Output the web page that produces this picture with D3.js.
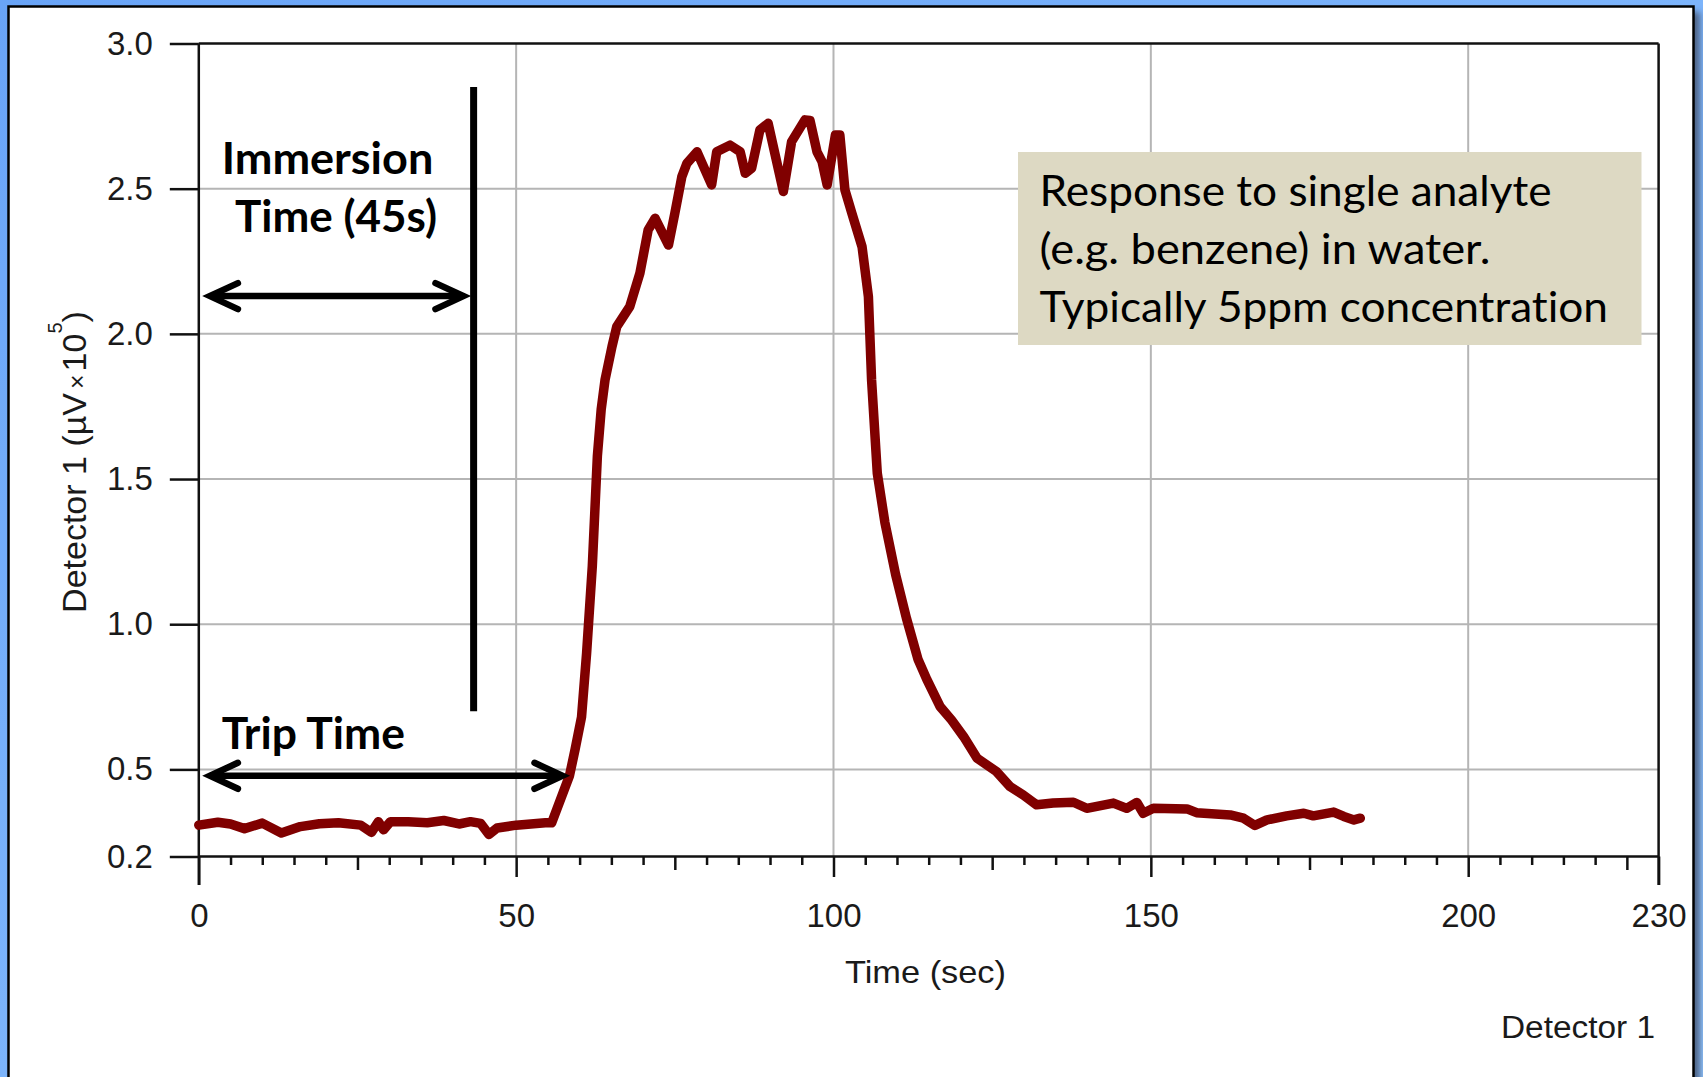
<!DOCTYPE html>
<html>
<head>
<meta charset="utf-8">
<script src="https://cdn.jsdelivr.net/npm/d3@7/dist/d3.min.js"></script>
<style>
  html, body { margin: 0; padding: 0; background: #7fb6fb; }
  svg { display: block; }
  text { font-variant-ligatures: none; }
</style>
</head>
<body>
<svg id="chart" width="1703" height="1077"></svg>
<script>
// Detector 1 response trace: time (s) and signal (µV × 10^5)
const timeSec = [
  0, 3, 5, 7.2, 10, 13, 16, 19, 22, 25.5, 27.2, 28.3, 29.1, 30.2, 33, 36, 38.6, 41, 42.8, 44.4,
  45.7, 47, 50, 54.6, 55.6, 58.4, 59.3, 60.3, 61.1, 62, 62.8, 63.4, 64, 65.1, 65.85, 67.9, 69.5,
  70.8, 71.9, 74, 75, 76.1, 76.9, 78.5, 80.8, 81.6, 83.7, 85.3, 86.1, 87.1, 88.4, 89.7, 92.1,
  93.4, 95.5, 96.3, 97.4, 98.2, 99, 100.3, 101, 101.8, 102.9, 104.5, 105.5, 106, 106.9, 108.1,
  109.8, 111.5, 113.3, 114.7, 116.8, 118.6, 120.5, 122.6, 125.7, 127.8, 129.9, 132, 134.6,
  137.8, 139.9, 144.1, 146.2, 147.8, 148.8, 150.4, 155.7, 157.2, 162.5, 164.6, 166.4, 168.3,
  171.4, 174.1, 175.6, 178.8, 180.4, 182, 183
];
const detector = [
  0.308, 0.318, 0.312, 0.296, 0.315, 0.281, 0.303, 0.313, 0.316, 0.308, 0.283, 0.320, 0.292,
  0.320, 0.320, 0.316, 0.324, 0.312, 0.320, 0.314, 0.276, 0.298, 0.308, 0.316, 0.316, 0.478,
  0.57, 0.68, 0.90, 1.20, 1.58, 1.74, 1.841, 1.956, 2.025, 2.094, 2.209, 2.358, 2.398, 2.306,
  2.415, 2.541, 2.587, 2.627, 2.513, 2.627, 2.65, 2.627, 2.553, 2.57, 2.702, 2.725, 2.49,
  2.662, 2.737, 2.735, 2.627, 2.593, 2.513, 2.685, 2.685, 2.496, 2.415, 2.30, 2.128, 1.841,
  1.52, 1.35, 1.17, 1.02, 0.88, 0.81, 0.716, 0.670, 0.613, 0.539, 0.492, 0.441, 0.412, 0.378,
  0.384, 0.387, 0.366, 0.384, 0.366, 0.386, 0.349, 0.366, 0.364, 0.351, 0.343, 0.332, 0.307,
  0.326, 0.340, 0.349, 0.340, 0.353, 0.338, 0.326, 0.332
];

const yTicks = [0.2, 0.5, 1.0, 1.5, 2.0, 2.5, 3.0];
const xTicks = [0, 50, 100, 150, 200, 230];
const xMidTicks = [25, 75, 125, 175, 225];
const xMinorTicks = d3.range(5, 230, 5).filter(v => v % 25 !== 0);
const gridX = [50, 100, 150, 200];
const gridY = [0.5, 1.0, 1.5, 2.0, 2.5];
const noteLines = ["Response to single analyte", "(e.g. benzene) in water.", "Typically 5ppm concentration"];

// annotation marks, in axis units (seconds / signal)
const immersionMark = { t: 43.3, lo: 0.70, hi: 2.85 };
const immersionSpan = { from: 1.75, to: 41.7, level: 2.13 };
const tripSpan = { from: 1.75, to: 57.3, level: 0.478 };

const W = 1703, H = 1077;
const sansFont = "'Liberation Sans', Arial, Helvetica, sans-serif";
const noteFont = "Lato, 'Open Sans', sans-serif";

const svg = d3.select("#chart");
const defs = svg.append("defs");
const grad = defs.append("linearGradient").attr("id", "frameBlue")
  .attr("x1", 0).attr("y1", 0).attr("x2", 1).attr("y2", 1);
grad.append("stop").attr("offset", "0%").attr("stop-color", "#69a4f7");
grad.append("stop").attr("offset", "100%").attr("stop-color", "#8fc4ff");
defs.append("filter").attr("id", "soft")
  .attr("x", "-5%").attr("y", "-5%").attr("width", "110%").attr("height", "110%")
  .append("feGaussianBlur").attr("stdDeviation", 3);

// slide background, drop shadow and white panel
svg.append("rect").attr("width", W).attr("height", H).attr("fill", "url(#frameBlue)");
svg.append("rect").attr("x", 14).attr("y", 12).attr("width", 1686).attr("height", 1120)
  .attr("fill", "#4f6587").attr("filter", "url(#soft)");
svg.append("rect").attr("x", 8.5).attr("y", 6.5).attr("width", 1685).attr("height", 1120)
  .attr("fill", "#fff").attr("stroke", "#000").attr("stroke-width", 2.5);

const x = d3.scaleLinear().domain([0, 230]).range([198.8, 1658.6]);
const y = d3.scaleLinear().domain([0.2, 3.0]).range([856.5, 43.5]);
const axisBottomY = y(0.2);

// grid
const grid = svg.append("g").attr("stroke", "#b5b5b5").attr("stroke-width", 2);
grid.selectAll("line.gx").data(gridX).join("line").attr("class", "gx")
  .attr("x1", d => x(d)).attr("x2", d => x(d)).attr("y1", y(3.0)).attr("y2", axisBottomY);
grid.selectAll("line.gy").data(gridY).join("line").attr("class", "gy")
  .attr("x1", x(0)).attr("x2", x(230)).attr("y1", d => y(d)).attr("y2", d => y(d));

// y axis
const gy = svg.append("g").attr("transform", `translate(${x(0)},0)`)
  .call(d3.axisLeft(y).tickValues(yTicks).tickFormat(d3.format(".1f"))
    .tickSize(29).tickSizeOuter(0).tickPadding(17));
gy.select(".domain").remove();
gy.selectAll("line").attr("stroke", "#111").attr("stroke-width", 2.5);
gy.selectAll("text").attr("font-family", sansFont).attr("font-size", 33).attr("fill", "#1a1a1a");

// x axis: minor, mid and labelled ticks
function bottomAxis(values, size) {
  const g = svg.append("g").attr("transform", `translate(0,${axisBottomY})`)
    .call(d3.axisBottom(x).tickValues(values).tickFormat("").tickSize(size).tickSizeOuter(0));
  g.select(".domain").remove();
  g.selectAll("line").attr("stroke", "#111").attr("stroke-width", 2.5);
  return g;
}
bottomAxis(xMinorTicks, 8.5);
bottomAxis(xMidTicks, 13.5);
const gx = svg.append("g").attr("transform", `translate(0,${axisBottomY})`)
  .call(d3.axisBottom(x).tickValues(xTicks).tickFormat(d3.format("d"))
    .tickSize(20.5).tickSizeOuter(0).tickPadding(26.8));
gx.select(".domain").remove();
gx.selectAll("line").attr("stroke", "#111").attr("stroke-width", 2.5)
  .filter(d => d === 0 || d === 230).attr("y2", 28.5);
gx.selectAll("text").attr("font-family", sansFont).attr("font-size", 33).attr("fill", "#1a1a1a");

// plot frame
const frame = svg.append("g").attr("stroke", "#111").attr("stroke-width", 2.5).attr("fill", "none");
frame.append("line").attr("x1", x(0)).attr("x2", x(230)).attr("y1", y(3.0)).attr("y2", y(3.0));
frame.append("line").attr("x1", x(0)).attr("x2", x(230)).attr("y1", axisBottomY).attr("y2", axisBottomY);
frame.append("line").attr("x1", x(0)).attr("x2", x(0)).attr("y1", y(3.0)).attr("y2", axisBottomY + 28.5);
frame.append("line").attr("x1", x(230)).attr("x2", x(230)).attr("y1", y(3.0)).attr("y2", axisBottomY + 28.5);

// response trace
const trace = timeSec.map((t, i) => [t, detector[i]]);
svg.append("path").datum(trace)
  .attr("fill", "none").attr("stroke", "#800000").attr("stroke-width", 9.5)
  .attr("stroke-linejoin", "round").attr("stroke-linecap", "round")
  .attr("d", d3.line().x(d => x(d[0])).y(d => y(d[1])));

// axis titles
svg.append("text").attr("x", 845).attr("y", 982.7)
  .attr("font-family", sansFont).attr("font-size", 32).attr("fill", "#1a1a1a")
  .attr("textLength", 161).attr("lengthAdjust", "spacingAndGlyphs")
  .text("Time (sec)");

const yTitle = svg.append("text")
  .attr("transform", "translate(86,462) rotate(-90)")
  .attr("text-anchor", "middle")
  .attr("font-family", sansFont).attr("font-size", 34).attr("fill", "#1a1a1a");
yTitle.append("tspan").text("Detector 1 (µV");
yTitle.append("tspan").attr("dx", 4).attr("font-size", 25).text("×");
yTitle.append("tspan").attr("dx", 3).text("10");
yTitle.append("tspan").attr("dy", -24).attr("font-size", 20).text("5");
yTitle.append("tspan").attr("dy", 24).text(")");

svg.append("text").attr("x", 1501).attr("y", 1038.3)
  .attr("font-family", sansFont).attr("font-size", 31).attr("fill", "#1a1a1a")
  .attr("textLength", 154).attr("lengthAdjust", "spacingAndGlyphs")
  .text("Detector 1");

// immersion marker and span arrows
const ink = svg.append("g").attr("stroke", "#000").attr("fill", "none");
ink.append("line")
  .attr("x1", x(immersionMark.t)).attr("x2", x(immersionMark.t))
  .attr("y1", y(immersionMark.hi)).attr("y2", y(immersionMark.lo))
  .attr("stroke-width", 7);

function spanArrow(span) {
  const x0 = x(span.from), x1 = x(span.to), yy = y(span.level);
  const hx = 28, hy = 13;
  const g = ink.append("g").attr("stroke-width", 6.5).attr("stroke-linecap", "round")
    .attr("stroke-linejoin", "miter");
  g.append("line").attr("x1", x0 + 3).attr("x2", x1 - 3).attr("y1", yy).attr("y2", yy);
  g.append("path").attr("d", `M${x0 + hx},${yy - hy}L${x0},${yy}L${x0 + hx},${yy + hy}`);
  g.append("path").attr("d", `M${x1 - hx},${yy - hy}L${x1},${yy}L${x1 - hx},${yy + hy}`);
}
spanArrow(immersionSpan);
spanArrow(tripSpan);

function boldLabel(txt, x0, base, len) {
  svg.append("text").attr("x", x0).attr("y", base)
    .attr("font-family", noteFont).attr("font-weight", 700).attr("font-size", 43)
    .attr("fill", "#000")
    .attr("textLength", len).attr("lengthAdjust", "spacingAndGlyphs")
    .text(txt);
}
boldLabel("Immersion", 221.7, 174, 211.6);
boldLabel("Time (45s)", 235, 231.7, 202);
boldLabel("Trip Time", 221.7, 749.3, 183.3);

// note box
svg.append("rect").attr("x", 1018).attr("y", 152).attr("width", 623.5).attr("height", 193)
  .attr("fill", "#ddd9c3");
const noteWidths = [512, 451, 568.5];
svg.append("g").selectAll("text").data(noteLines).join("text")
  .attr("x", 1039.5).attr("y", (d, i) => 205.5 + i * 58.2)
  .attr("font-family", noteFont).attr("font-size", 43).attr("fill", "#000")
  .attr("textLength", (d, i) => noteWidths[i]).attr("lengthAdjust", "spacingAndGlyphs")
  .text(d => d);
</script>
</body>
</html>
